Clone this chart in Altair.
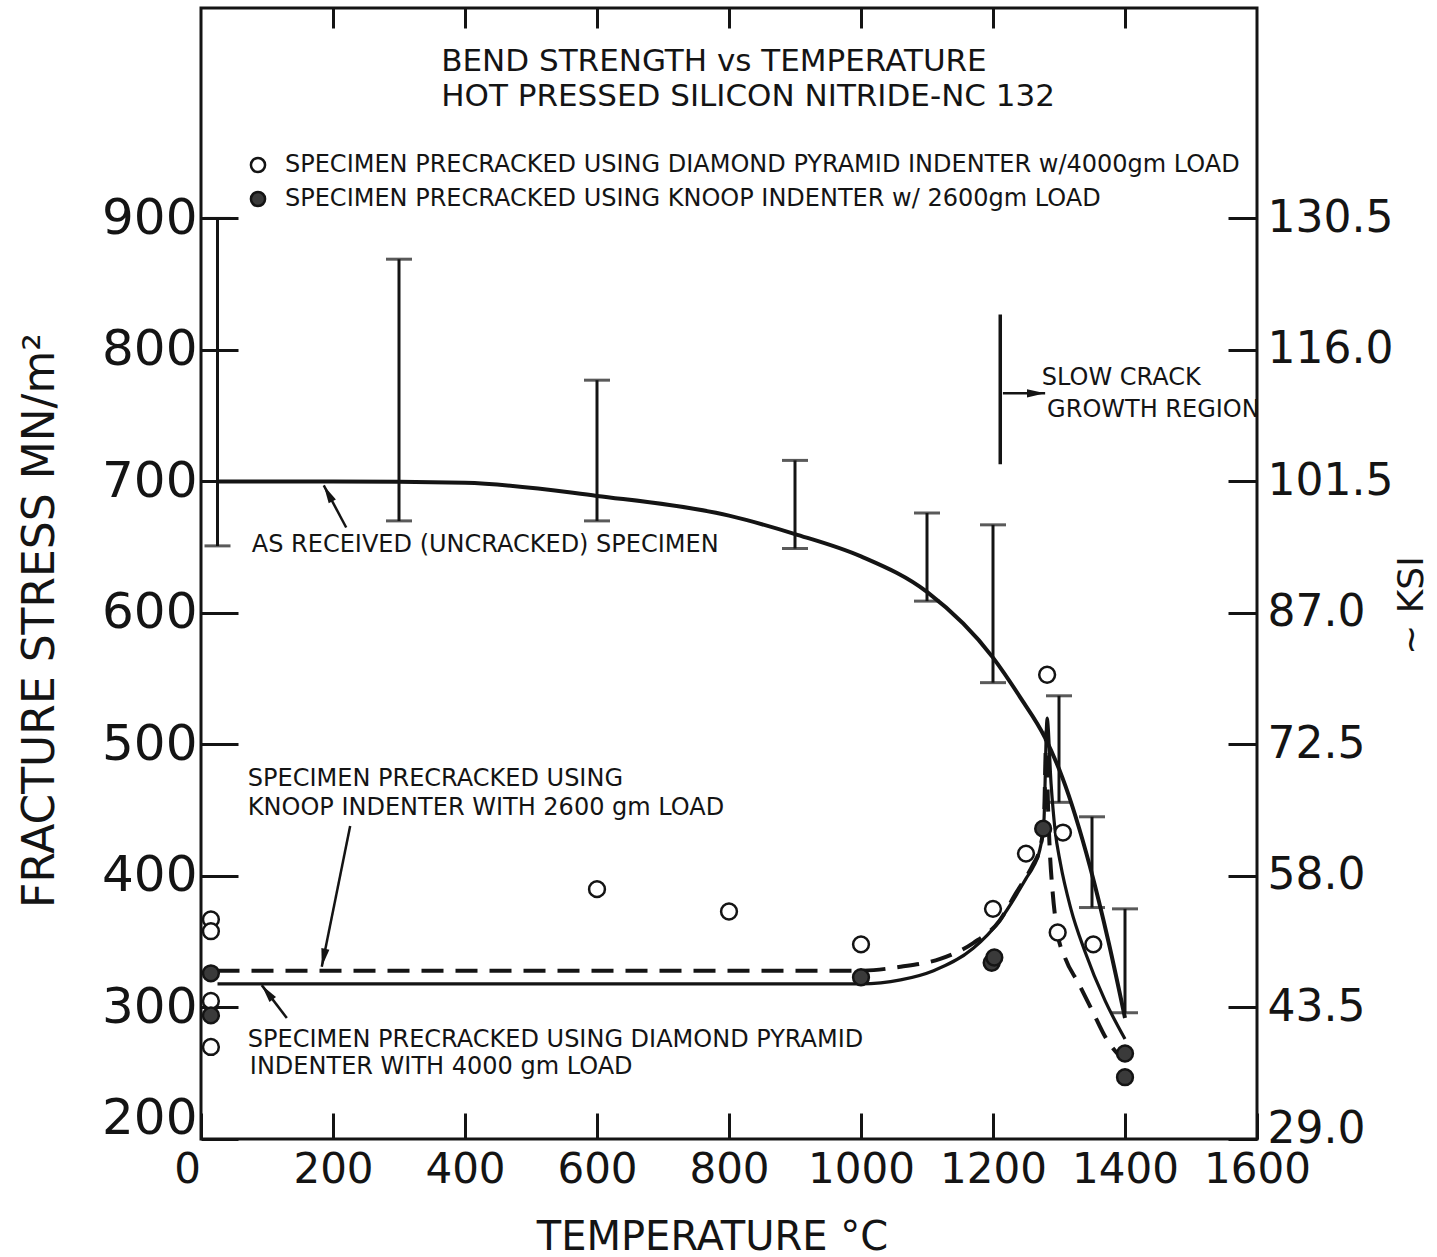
import math
import altair as alt
import pandas as pd

FONT = "DejaVu Sans"
INK = "#141414"

# ---------------- data ----------------
# As-received (uncracked) specimens: scatter bands (MN/m^2)
band_temp = [25, 300, 600, 900, 1100, 1200, 1300, 1350, 1400]
band_low = [651, 670, 670, 649, 609, 547, 456, 376, 296]
band_high = [900, 869, 777, 716, 676, 667, 537, 445, 375]

# Mean curve, as-received (uncracked) specimens
asrec_temp = [25, 200, 400, 600, 800, 900, 1000, 1100, 1200, 1241, 1279, 1305, 1347, 1375, 1400]
asrec_val = [700, 700, 699, 689, 674, 660, 643, 616, 566, 536, 505, 475, 407, 350, 292]

# Precracked with diamond pyramid indenter, 4000 gm load (solid curve)
dia_temp = [25, 400, 800, 1000, 1060, 1110, 1170, 1210, 1236, 1250, 1261, 1271, 1277, 1282,
            1288, 1294, 1302, 1318, 1339, 1370, 1400]
dia_val = [318, 318, 318, 318, 321, 328, 345, 366, 386, 398, 407, 420, 440, 520,
           470, 435, 410, 375, 343, 305, 276]

# Precracked with Knoop indenter, 2600 gm load (dashed curve)
kn_temp = [25, 400, 800, 1000, 1060, 1120, 1170, 1210, 1236, 1250, 1261, 1271, 1277, 1281,
           1283, 1286, 1290, 1298, 1309, 1330, 1350, 1372, 1392]
kn_val = [328, 328, 328, 328, 331, 337, 349, 366, 388, 399, 409, 421, 440, 510,
          460, 420, 390, 356, 338, 318, 298, 276, 263]

# Individual specimens
open_temp = [15, 15, 15, 15, 600, 800, 1000, 1200, 1250, 1282, 1306, 1298, 1352]
open_val = [367, 358, 305, 270, 390, 373, 348, 375, 417, 553, 433, 357, 348]
fill_temp = [15, 15, 1000, 1198, 1202, 1276, 1400, 1400]
fill_val = [326, 294, 323, 334, 338, 436, 265, 247]

series_open = "SPECIMEN PRECRACKED USING DIAMOND PYRAMID INDENTER w/4000gm LOAD"
series_fill = "SPECIMEN PRECRACKED USING KNOOP INDENTER w/ 2600gm LOAD"

x_ticks = [0, 200, 400, 600, 800, 1000, 1200, 1400, 1600]
x_top_ticks = [200, 400, 600, 800, 1000, 1200, 1400]
y_ticks = [200, 300, 400, 500, 600, 700, 800, 900]

# in-plot lettering
title_lines = ["BEND STRENGTH vs TEMPERATURE", "HOT PRESSED SILICON NITRIDE-NC 132"]
note_lines = ["AS RECEIVED (UNCRACKED) SPECIMEN",
              "SPECIMEN PRECRACKED USING", "KNOOP INDENTER WITH 2600 gm LOAD",
              "SPECIMEN PRECRACKED USING DIAMOND PYRAMID", "INDENTER WITH 4000 gm LOAD",
              "SLOW CRACK", "GROWTH REGION"]

# ---------------- layout (placement of lettering, in data units) ----------------
W, H = 1056, 1131
X_DOM = [0, 1600]
Y_DOM = [200, 1060]
title_pos = [(364, 1019), (364, 992)]
note_pos = [(77, 652), (71, 474), (71, 452), (71, 275), (74, 255), (1274, 779), (1282, 754)]
# arrows: tail x, tail y, head x, head y
arrows = [(220, 665, 186, 697), (226, 438, 183, 331), (130, 292, 92, 317), (1215, 767, 1279, 767)]
slow_crack_mark = (1211, 713, 827)

xs = alt.Scale(domain=X_DOM, nice=False, zero=False)
ys = alt.Scale(domain=Y_DOM, nice=False, zero=False)

common_axis = dict(domain=False, grid=False, tickColor=INK, tickWidth=3, labelColor=INK,
                   labelFont=FONT, labelFlush=False, labelOverlap=False, titleFont=FONT,
                   titleColor=INK, titleFontWeight="normal", titleBaseline="middle",
                   titleAlign="center")

x_bottom = alt.Axis(orient="bottom", values=x_ticks, offset=-26, tickSize=26, labelFontSize=42,
                    format="d", labelPadding=10,
                    labelOffset={"condition": {"test": "datum.value === 0", "value": -14}, "value": 0},
                    title="TEMPERATURE °C", titleFontSize=40,
                    titleX=511, titleY=124, **common_axis)
x_top = alt.Axis(orient="top", values=x_top_ticks, offset=-20, tickSize=20, labels=False,
                 title=None, **common_axis)
y_left = alt.Axis(orient="left", values=y_ticks, offset=-37, tickSize=37, labelFontSize=50,
                  labelPadding=4,
                  labelOffset={"condition": {"test": "datum.value === 200", "value": -21}, "value": 0},
                  title="FRACTURE STRESS MN/m²", titleFontSize=44,
                  titleAngle=270, titleX=-198, titleY=612, **common_axis)
y_right = alt.Axis(orient="right", values=y_ticks, offset=-29, tickSize=29, labelFontSize=44,
                   labelPadding=10, labelExpr="format(datum.value * 0.145, '.1f')",
                   labelOffset={"condition": {"test": "datum.value === 200", "value": -10}, "value": 0},
                   title="~ KSI", titleFontSize=36, titleAngle=270, titleX=183, titleY=597,
                   **common_axis)


def xq(field, axis=None):
    return alt.X(field, type="quantitative", scale=xs, axis=axis)


def yq(field, axis=None):
    return alt.Y(field, type="quantitative", scale=ys, axis=axis)


asrec_df = pd.DataFrame({"T": asrec_temp, "S": asrec_val})
dia_df = pd.DataFrame({"T": dia_temp, "S": dia_val})
kn_df = pd.DataFrame({"T": kn_temp, "S": kn_val})
band_df = pd.DataFrame({"T": band_temp, "lo": band_low, "hi": band_high})
pts_df = pd.DataFrame({
    "T": open_temp + fill_temp,
    "S": open_val + fill_val,
    "series": [series_open] * len(open_temp) + [series_fill] * len(fill_temp),
})

line_asrec = alt.Chart(asrec_df).mark_line(color=INK, strokeWidth=4, interpolate="monotone").encode(
    x=xq("T", x_bottom), y=yq("S", y_left))
line_dia = alt.Chart(dia_df).mark_line(color=INK, strokeWidth=3.2, interpolate="monotone").encode(
    x=xq("T", x_top), y=yq("S", y_right))
line_kn = alt.Chart(kn_df).mark_line(color=INK, strokeWidth=4, strokeDash=[22, 12],
                                     interpolate="monotone").encode(x=xq("T"), y=yq("S"))

bars = alt.Chart(band_df).mark_rule(color=INK, strokeWidth=3).encode(
    x=xq("T"), y=yq("lo"), y2="hi")
caps_lo = alt.Chart(band_df).mark_tick(orient="horizontal", size=26, thickness=3, color=INK).encode(
    x=xq("T"), y=yq("lo"))
caps_hi = alt.Chart(band_df).mark_tick(orient="horizontal", size=26, thickness=3, color=INK).encode(
    x=xq("T"), y=yq("hi"))

points = alt.Chart(pts_df).mark_circle(size=250, stroke=INK, strokeWidth=2.5, opacity=1).encode(
    x=xq("T"), y=yq("S"),
    fill=alt.Fill("series:N",
                  scale=alt.Scale(domain=[series_open, series_fill], range=["white", "#3a3a3a"]),
                  legend=alt.Legend(orient="none", legendX=45, legendY=145, title=None,
                                    symbolType="circle", symbolSize=200, symbolStrokeColor=INK,
                                    symbolStrokeWidth=2.5, labelFont=FONT, labelFontSize=24,
                                    labelColor=INK, labelLimit=1200, labelOffset=15,
                                    rowPadding=8, padding=0)),
)

title_df = pd.DataFrame({"x": [p[0] for p in title_pos], "y": [p[1] for p in title_pos],
                         "t": title_lines})
titles = alt.Chart(title_df).mark_text(font=FONT, fontSize=31, align="left", baseline="middle",
                                       color=INK).encode(x=xq("x"), y=yq("y"), text="t:N")

note_df = pd.DataFrame({"x": [p[0] for p in note_pos], "y": [p[1] for p in note_pos],
                        "t": note_lines})
notes = alt.Chart(note_df).mark_text(font=FONT, fontSize=24, align="left", baseline="middle",
                                     color=INK).encode(x=xq("x"), y=yq("y"), text="t:N")

sx = W / (X_DOM[1] - X_DOM[0])
sy = H / (Y_DOM[1] - Y_DOM[0])
arrow_df = pd.DataFrame({
    "x1": [a[0] for a in arrows], "y1": [a[1] for a in arrows],
    "x2": [a[2] for a in arrows], "y2": [a[3] for a in arrows],
})
arrow_df["ang"] = [
    math.degrees(math.atan2((a[2] - a[0]) * sx, (a[3] - a[1]) * sy)) % 360 for a in arrows
]
shafts = alt.Chart(arrow_df).mark_rule(color=INK, strokeWidth=2.5).encode(
    x=xq("x1"), y=yq("y1"), x2="x2", y2="y2")
heads = alt.Chart(arrow_df).mark_point(shape="M0,0L0.45,2L-0.45,2Z", filled=True, size=330,
                                       color=INK, opacity=1).encode(
    x=xq("x2"), y=yq("y2"), angle=alt.Angle("ang:Q", scale=None))

scg_df = pd.DataFrame({"x": [slow_crack_mark[0]], "y1": [slow_crack_mark[1]],
                       "y2": [slow_crack_mark[2]]})
scg = alt.Chart(scg_df).mark_rule(color=INK, strokeWidth=3.5).encode(
    x=xq("x"), y=yq("y1"), y2="y2")

chart = alt.layer(
    line_asrec, line_dia, line_kn, bars, caps_lo, caps_hi, scg, shafts, heads,
    points, titles, notes,
).resolve_axis(x="independent", y="independent").properties(
    width=W, height=H, autosize="none",
    padding={"left": 201, "top": 8, "right": 180, "bottom": 118},
    background="white",
).configure_view(stroke=INK, strokeWidth=3)

chart.save("out.html", embed_options={"renderer": "svg", "actions": False})
